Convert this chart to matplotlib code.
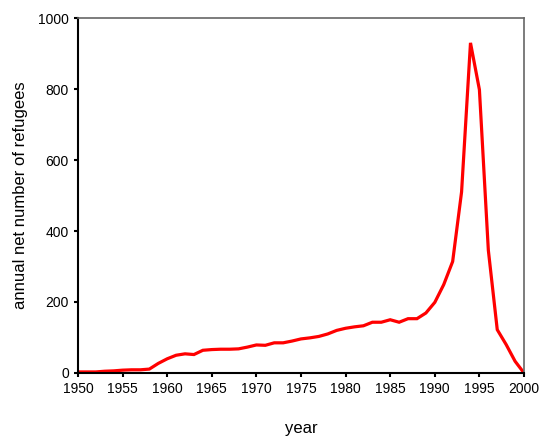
import matplotlib
matplotlib.use("Agg")
import matplotlib.pyplot as plt

years = list(range(1950, 2001))
refugees = [3, 3, 3, 5, 6, 8, 9, 9, 11, 27,
            40, 50, 54, 52, 64, 66, 67, 67, 68, 73,
            79, 78, 85, 85, 90, 96, 99, 103, 110, 120,
            126, 130, 133, 143, 143, 150, 143, 153, 153, 169,
            199, 249, 314, 510, 930, 798, 346, 122, 80, 33,
            0]
xticks = [1950, 1955, 1960, 1965, 1970, 1975, 1980, 1985, 1990, 1995, 2000]
yticks = [0, 200, 400, 600, 800, 1000]

plt.rcParams['font.family'] = ['Liberation Sans', 'DejaVu Sans']
fig = plt.figure(figsize=(5.4, 4.36), dpi=100)
ax = fig.add_axes([0.1444, 0.1445, 0.826, 0.8142])
ax.plot(years, refugees, color='#ff0000', lw=2.3, solid_joinstyle='miter')
ax.set_xlim(1950, 2000)
ax.set_ylim(0, 1000)
ax.set_xticks(xticks)
ax.set_yticks(yticks)
ax.tick_params(labelsize=10, length=3, width=1.5, direction='out', colors='black')
for s in ['left', 'bottom']:
    ax.spines[s].set_linewidth(1.5)
    ax.spines[s].set_color('black')
for s in ['top', 'right']:
    ax.spines[s].set_linewidth(1.2)
    ax.spines[s].set_color('#666666')
ax.set_xlabel('year', fontsize=12, labelpad=18)
ax.set_ylabel('annual net number of refugees', fontsize=12, labelpad=7)
fig.savefig('out.png', dpi=100)
